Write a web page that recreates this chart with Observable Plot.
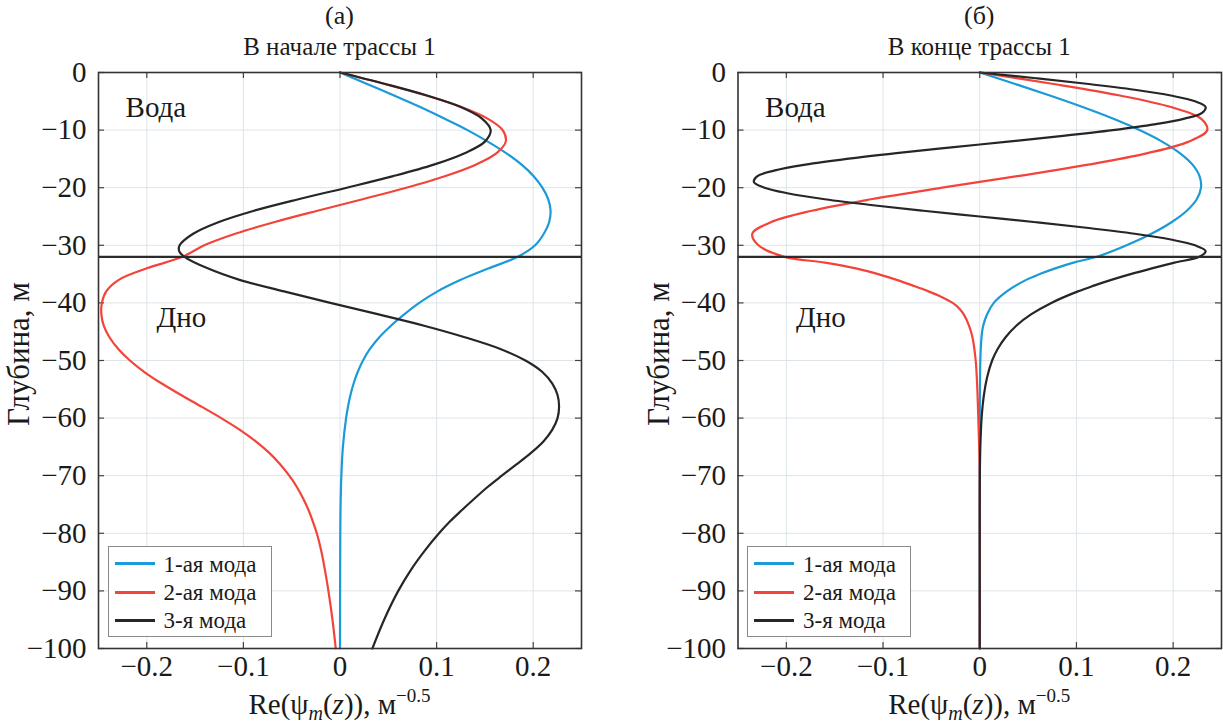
<!DOCTYPE html>
<html><head><meta charset="utf-8">
<script src="https://cdn.jsdelivr.net/npm/d3@7"></script>
<script src="https://cdn.jsdelivr.net/npm/@observablehq/plot@0.6"></script>
<style>
body{margin:0;background:#fff;}
#root{position:relative;width:1223px;height:723px;overflow:hidden;font-family:"Liberation Serif","Times New Roman",serif;color:#1a1a1a;}
.panel{position:absolute;top:0;}
.t{position:absolute;white-space:nowrap;transform:translate(-50%,-50%);line-height:1;}
.yl{position:absolute;white-space:nowrap;transform:translate(-50%,-50%) rotate(-90deg);line-height:1;}
.legend{position:absolute;background:#fff;border:1px solid #8a8a8a;box-sizing:border-box;}
.legend .row{position:absolute;left:0;height:0;}
.legend .sw{position:absolute;left:6px;width:40px;height:3px;top:-1.5px;}
.legend .lt{position:absolute;left:55px;top:0;transform:translateY(-50%);white-space:nowrap;line-height:1;font-size:23px;}
</style></head><body><div id="root"></div><script>
// ---- data: [depth (m), Re(psi_m)] ----
const xTicks = [-0.2, -0.1, 0, 0.1, 0.2];
const yTicks = [0, -10, -20, -30, -40, -50, -60, -70, -80, -90, -100];
const bottomDepth = [-32];
const modeNames = ["1-ая мода", "2-ая мода", "3-я мода"];
const modeColors = ["#1b9ad8", "#f2443a", "#262626"];
const titlesTop = ["(а)", "(б)"];
const titlesSub = ["В начале трассы 1", "В конце трассы 1"];
const notes = [{label: "Вода", x: -0.222, depth: 6.1}, {label: "Дно", x: -0.19, depth: 42.6}];

// panel (а) — start of track
const a_mode1 = [[0,0],[2,0.028],[4,0.056],[6,0.083],[8,0.108],[10,0.132],[12,0.153],[14,0.172],[16,0.188],[18,0.2005],[20,0.2095],[22,0.2155],[24,0.218],[26,0.2165],[28,0.211],[30,0.202],[32,0.184],[34,0.154],[36,0.125],[38,0.101],[40,0.082],[42,0.0665],[44,0.0525],[46,0.0405],[48,0.031],[50,0.0238],[52,0.0183],[54,0.0141],[56,0.0108],[58,0.0083],[60,0.0063],[65,0.003],[70,0.0014],[75,0.0006],[80,0.0003],[90,0.0001],[100,0]];
const a_mode2 = [[0,0],[2,0.0464],[4,0.0894],[6,0.1257],[8,0.1527],[10,0.1684],[12,0.1716],[14,0.1621],[16,0.1405],[18,0.1085],[20,0.0685],[22,0.0234],[24,-0.0234],[26,-0.0685],[28,-0.1085],[30,-0.1405],[32,-0.163],[34,-0.200],[36,-0.229],[38,-0.242],[40,-0.2465],[42,-0.247],[44,-0.2445],[46,-0.2385],[48,-0.2295],[50,-0.2175],[52,-0.2025],[54,-0.1845],[56,-0.1645],[58,-0.1435],[60,-0.123],[62,-0.104],[64,-0.0875],[66,-0.0735],[68,-0.062],[70,-0.0525],[72,-0.0445],[74,-0.038],[76,-0.0325],[78,-0.028],[80,-0.024],[83,-0.0195],[86,-0.016],[90,-0.012],[95,-0.0078],[100,-0.0044]];
const a_mode3 = [[0,0],[2,0.047],[4,0.090],[6,0.125],[8,0.147],[10,0.156],[12,0.150],[14,0.129],[16,0.097],[18,0.055],[20,0.007],[22,-0.043],[24,-0.089],[26,-0.126],[28,-0.152],[30,-0.166],[31,-0.1665],[32,-0.161],[34,-0.137],[36,-0.104],[38,-0.058],[40,-0.010],[42,0.040],[44,0.088],[46,0.130],[48,0.166],[50,0.192],[52,0.2095],[54,0.2198],[56,0.2252],[58,0.2268],[60,0.2252],[62,0.2198],[64,0.2108],[66,0.198],[68,0.183],[70,0.1675],[72,0.1525],[74,0.139],[76,0.126],[78,0.1135],[80,0.1025],[83,0.0878],[86,0.0748],[90,0.0603],[95,0.0457],[100,0.0335]];

// panel (б) — end of track
const b_mode1 = [[0,0],[2,0.0367],[4,0.0725],[6,0.1064],[8,0.1376],[10,0.1652],[12,0.1885],[14,0.2069],[16,0.220],[18,0.2273],[20,0.2288],[22,0.2244],[24,0.2141],[26,0.1983],[28,0.1775],[30,0.1519],[32,0.121],[33,0.097],[34,0.078],[35,0.062],[36,0.048],[38,0.028],[40,0.0145],[42,0.0075],[44,0.0035],[46,0.0018],[50,0.0006],[55,0.0002],[60,0],[100,0]];
const b_mode2 = [[0,0],[2,0.0766],[4,0.145],[6,0.1976],[8,0.2288],[10,0.2352],[12,0.2161],[14,0.1736],[16,0.1123],[18,0.0389],[20,-0.0389],[22,-0.1123],[24,-0.1736],[26,-0.2161],[28,-0.2352],[30,-0.2288],[32,-0.202],[33,-0.160],[34,-0.128],[35,-0.105],[36,-0.086],[37,-0.069],[38,-0.053],[39,-0.039],[40,-0.028],[41,-0.021],[42,-0.0165],[44,-0.011],[46,-0.0075],[50,-0.0042],[55,-0.0025],[60,-0.0015],[65,-0.0006],[70,0],[100,0]];
const b_mode3 = [[0,0],[1,0.0582],[2,0.1127],[3,0.1602],[4,0.1976],[5,0.2226],[6,0.2336],[7,0.2299],[8,0.2117],[9,0.1803],[10,0.1375],[11,0.0861],[12,0.0293],[13,-0.0293],[14,-0.0861],[15,-0.1375],[16,-0.1803],[17,-0.2117],[18,-0.2299],[19,-0.2336],[20,-0.2226],[21,-0.1976],[22,-0.1602],[23,-0.1127],[24,-0.0582],[25,0],[26,0.0582],[27,0.1127],[28,0.1602],[29,0.1976],[30,0.2226],[31,0.2336],[32,0.227],[33,0.2015],[34,0.178],[35,0.156],[36,0.136],[37,0.118],[38,0.1015],[40,0.074],[42,0.053],[44,0.0375],[46,0.0265],[48,0.0185],[50,0.0128],[53,0.0075],[56,0.0043],[60,0.0019],[65,0.0006],[70,0.0001],[75,0],[100,0]];

const panelData = [[a_mode1, a_mode2, a_mode3], [b_mode1, b_mode2, b_mode3]];

// ---- layout ----
const H = 723, MT = 72, MB = 75;
const layout = [
  {left: 0, width: 612, mL: 98, mR: 31},
  {left: 612, width: 611, mL: 125.5, mR: 2}
];
const FONT = '"Liberation Serif", "Times New Roman", serif';
const root = document.getElementById("root");
const plotH = H - MT - MB;
const fmt = d => d === 0 ? "0" : (d < 0 ? "\u2212" : "") + String(Math.abs(d));

layout.forEach((L, i) => {
  const series = panelData[i];
  const plotW = L.width - L.mL - L.mR;
  const marks = [
    Plot.gridX(xTicks, {stroke: "#dde5ea", strokeOpacity: 1, strokeWidth: 1}),
    Plot.gridY(yTicks, {stroke: "#dde5ea", strokeOpacity: 1, strokeWidth: 1}),
    // inward tick marks on all four sides
    Plot.tickX(xTicks, {x: d => d, insetBottom: plotH - 6, stroke: "#444", strokeWidth: 1.2}),
    Plot.tickX(xTicks, {x: d => d, insetTop: plotH - 6, stroke: "#444", strokeWidth: 1.2}),
    Plot.tickY(yTicks, {y: d => d, insetRight: plotW - 6, stroke: "#444", strokeWidth: 1.2}),
    Plot.tickY(yTicks, {y: d => d, insetLeft: plotW - 6, stroke: "#444", strokeWidth: 1.2}),
    Plot.axisX(xTicks, {tickSize: 0, tickPadding: 7, fontSize: 29, label: null, fill: "#1a1a1a", tickFormat: fmt}),
    Plot.axisY(yTicks, {tickSize: 0, tickPadding: 12, fontSize: 29, label: null, fill: "#1a1a1a", tickFormat: fmt}),
    ...series.map((pts, k) => Plot.line(pts, {
      x: d => d[1], y: d => -d[0], stroke: modeColors[k], strokeWidth: 2.2, curve: "catmull-rom"
    })),
    Plot.ruleY(bottomDepth, {stroke: "#2b2b2b", strokeWidth: 2.2}),
    Plot.text(notes, {x: "x", y: d => -d.depth, text: "label", textAnchor: "start", fontSize: 29, fill: "#1a1a1a"}),
    Plot.frame({stroke: "#333", strokeWidth: 1.6})
  ];
  const svg = Plot.plot({
    width: L.width, height: H,
    marginLeft: L.mL, marginRight: L.mR, marginTop: MT, marginBottom: MB,
    x: {domain: [-0.25, 0.25]},
    y: {domain: [-100, 0]},
    style: {fontFamily: FONT, background: "transparent", overflow: "visible"},
    marks
  });
  const wrap = document.createElement("div");
  wrap.className = "panel";
  wrap.style.left = L.left + "px";
  wrap.appendChild(svg);
  root.appendChild(wrap);

  const px0 = L.left + L.mL, px1 = L.left + L.width - L.mR;
  const cx = (px0 + px1) / 2;
  const add = (cls, html, x, y, size) => {
    const el = document.createElement("div");
    el.className = cls; el.innerHTML = html;
    el.style.left = x + "px"; el.style.top = y + "px"; el.style.fontSize = size + "px";
    root.appendChild(el);
  };
  add("t", titlesTop[i], cx, 16, 26);
  add("t", titlesSub[i], cx, 46, 25);
  add("t", 'Re(ψ<sub style="font-size:20px;vertical-align:-6px"><i>m</i></sub>(<i>z</i>)), м<sup style="font-size:19px;vertical-align:12px">−0.5</sup>', cx, 704, 29);
  add("yl", "Глубина, м", px0 - 80, MT + plotH / 2 - 6, 31);

  // legend
  const lg = document.createElement("div");
  lg.className = "legend";
  lg.style.left = (px0 + 9.5) + "px"; lg.style.top = "546px";
  lg.style.width = "164px"; lg.style.height = "91px";
  [16.7, 45, 73.3].forEach((ty, k) => {
    const row = document.createElement("div");
    row.className = "row"; row.style.top = ty + "px";
    row.innerHTML = `<div class="sw" style="background:${modeColors[k]}"></div><div class="lt">${modeNames[k]}</div>`;
    lg.appendChild(row);
  });
  root.appendChild(lg);
});
</script></body></html>
